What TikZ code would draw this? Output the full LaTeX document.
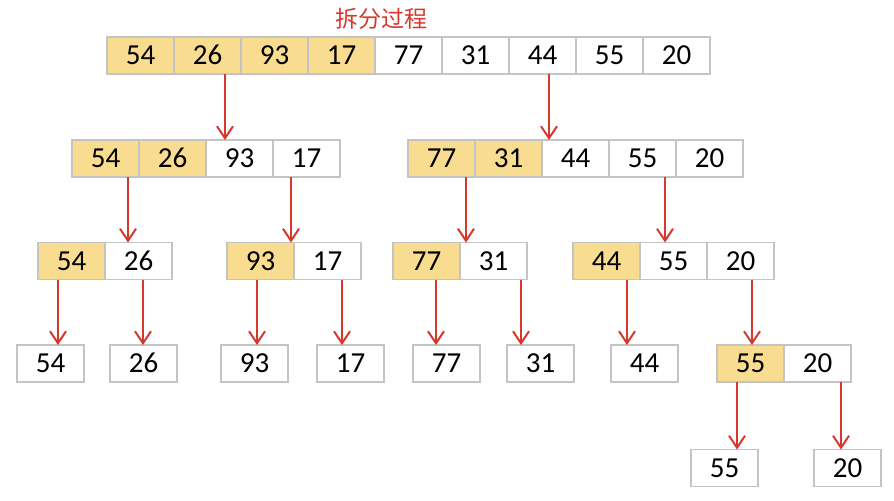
\documentclass[tikz,border=0pt]{standalone}
\usepackage{fontspec}
\setmainfont{Carlito}
\newfontfamily\cjk{Noto Sans CJK SC}
\usepackage{tikz}
\usetikzlibrary{positioning, arrows.meta}
\definecolor{cellline}{HTML}{C4C4C4}
\definecolor{cellfill}{HTML}{F8DD90}
\definecolor{splitred}{HTML}{D8382C}

\tikzset{
	cell/.style={draw=cellline, line width=.6pt, minimum width=33.5pt, minimum height=18.5pt,
		inner sep=0pt, outer sep=0pt, text height=9.2pt, text depth=0pt,
		font=\fontsize{14.5}{16}\selectfont},
	hot/.style={cell, fill=cellfill},
	split/.style={draw=splitred, line width=1pt, -{Straight Barb[length=6pt,width=8pt,line width=1pt]}},
}

\begin{document}
\begin{tikzpicture}[x=.5pt, y=-.5pt, node distance=0pt]
	\useasboundingbox (0,0) rectangle (894,500);
	\node[text=splitred, font=\cjk\fontsize{11.5}{13}\selectfont] (title) at (381,19) {拆分过程};
	% row 1
	\node[hot, anchor=west] (a1) at (107,55.5) {54};
	\node[hot, right=of a1] (a2) {26};
	\node[hot, right=of a2] (a3) {93};
	\node[hot, right=of a3] (a4) {17};
	\node[cell, right=of a4] (a5) {77};
	\node[cell, right=of a5] (a6) {31};
	\node[cell, right=of a6] (a7) {44};
	\node[cell, right=of a7] (a8) {55};
	\node[cell, right=of a8] (a9) {20};
	% row 2
	\node[hot, anchor=west] (b1) at (72,158.5) {54};
	\node[hot, right=of b1] (b2) {26};
	\node[cell, right=of b2] (b3) {93};
	\node[cell, right=of b3] (b4) {17};
	\node[hot, anchor=west] (b5) at (408,158.5) {77};
	\node[hot, right=of b5] (b6) {31};
	\node[cell, right=of b6] (b7) {44};
	\node[cell, right=of b7] (b8) {55};
	\node[cell, right=of b8] (b9) {20};
	% row 3
	\node[hot, anchor=west] (c1) at (38,261) {54};
	\node[cell, right=of c1] (c2) {26};
	\node[hot, anchor=west] (c3) at (227,261) {93};
	\node[cell, right=of c3] (c4) {17};
	\node[hot, anchor=west] (c5) at (393,261) {77};
	\node[cell, right=of c5] (c6) {31};
	\node[hot, anchor=west] (c7) at (573,261) {44};
	\node[cell, right=of c7] (c8) {55};
	\node[cell, right=of c8] (c9) {20};
	% row 4
	\node[cell, anchor=west] (d1) at (17,363.5) {54};
	\node[cell, anchor=west] (d2) at (110,363.5) {26};
	\node[cell, anchor=west] (d3) at (221,363.5) {93};
	\node[cell, anchor=west] (d4) at (317,363.5) {17};
	\node[cell, anchor=west] (d5) at (413,363.5) {77};
	\node[cell, anchor=west] (d6) at (507,363.5) {31};
	\node[cell, anchor=west] (d7) at (611,363.5) {44};
	\node[hot, anchor=west] (d8) at (717,363.5) {55};
	\node[cell, right=of d8] (d9) {20};
	% row 5
	\node[cell, anchor=west] (e1) at (691,468) {55};
	\node[cell, anchor=west] (e2) at (814,468) {20};
	% arrows
	\draw[split] (a2.south -| 225,0) -- (b3.north -| 225,0);
	\draw[split] (a7.south -| 549,0) -- (b7.north -| 549,0);
	\draw[split] (b1.south -| 128,0) -- (c2.north -| 128,0);
	\draw[split] (b4.south -| 291,0) -- (c3.north -| 291,0);
	\draw[split] (b5.south -| 466,0) -- (c6.north -| 466,0);
	\draw[split] (b8.south -| 665,0) -- (c8.north -| 665,0);
	\draw[split] (c1.south -| 58,0) -- (d1.north -| 58,0);
	\draw[split] (c2.south -| 143,0) -- (d2.north -| 143,0);
	\draw[split] (c3.south -| 257,0) -- (d3.north -| 257,0);
	\draw[split] (c4.south -| 342,0) -- (d4.north -| 342,0);
	\draw[split] (c5.south -| 436,0) -- (d5.north -| 436,0);
	\draw[split] (c6.south -| 521,0) -- (d6.north -| 521,0);
	\draw[split] (c7.south -| 627,0) -- (d7.north -| 627,0);
	\draw[split] (c9.south -| 752,0) -- (d8.north -| 752,0);
	\draw[split] (d8.south -| 737,0) -- (e1.north -| 737,0);
	\draw[split] (d9.south -| 841,0) -- (e2.north -| 841,0);
\end{tikzpicture}
\end{document}
